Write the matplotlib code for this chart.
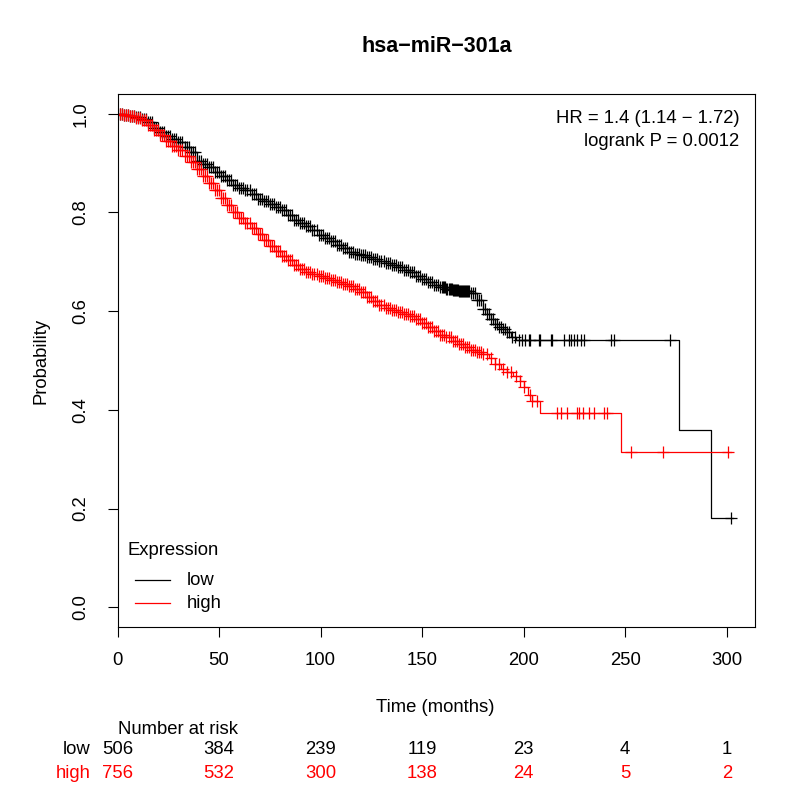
import numpy as np
import matplotlib.pyplot as plt
from matplotlib.lines import Line2D
from matplotlib.transforms import blended_transform_factory

plt.rcParams["font.family"] = ["Liberation Sans", "DejaVu Sans"]

# Kaplan-Meier steps: (time in months, survival)
low_t = [0, 3, 6, 9, 12, 15, 18, 21, 24, 27, 30, 33, 36, 39, 42, 45, 48, 51,
         54, 57, 60, 63, 66, 69, 72, 75, 78, 81, 84, 87, 90, 93, 96, 99, 102,
         105, 108, 111, 114, 117, 120, 123, 126, 129, 132, 135, 138, 141, 144,
         147, 150, 153, 156, 159, 162, 165, 168, 171, 174, 177, 180, 182, 184,
         186, 188, 190, 192, 194, 196, 276.5, 292.5]
low_s = [1.0, 0.998, 0.996, 0.993, 0.99, 0.983, 0.972, 0.963, 0.955, 0.949,
         0.943, 0.933, 0.922, 0.905, 0.898, 0.893, 0.882, 0.873, 0.865, 0.856,
         0.85, 0.845, 0.838, 0.828, 0.823, 0.818, 0.812, 0.805, 0.795, 0.785,
         0.778, 0.772, 0.765, 0.755, 0.748, 0.742, 0.735, 0.728, 0.72, 0.716,
         0.713, 0.709, 0.705, 0.701, 0.698, 0.694, 0.689, 0.684, 0.679, 0.672,
         0.666, 0.66, 0.654, 0.648, 0.645, 0.643, 0.641, 0.64, 0.636, 0.623,
         0.605, 0.594, 0.585, 0.574, 0.568, 0.563, 0.557, 0.548, 0.5416,
         0.36, 0.18]
low_end = 303

high_t = [0, 3, 6, 9, 12, 15, 18, 21, 24, 27, 30, 33, 36, 39, 42, 45, 48, 51,
          54, 57, 60, 63, 66, 69, 72, 75, 78, 81, 84, 87, 90, 93, 96, 99, 102,
          105, 108, 111, 114, 117, 120, 123, 126, 129, 132, 135, 138, 141, 144,
          147, 150, 153, 156, 159, 162, 165, 168, 171, 174, 177, 180, 183, 186,
          189, 192, 195, 198, 200, 202, 204, 208, 248]
high_s = [1.0, 0.998, 0.996, 0.992, 0.987, 0.978, 0.968, 0.957, 0.945, 0.935,
          0.926, 0.915, 0.902, 0.888, 0.874, 0.86, 0.845, 0.83, 0.815, 0.8,
          0.788, 0.778, 0.768, 0.756, 0.744, 0.733, 0.722, 0.712, 0.703, 0.694,
          0.685, 0.679, 0.675, 0.672, 0.668, 0.664, 0.66, 0.656, 0.651, 0.645,
          0.638, 0.629, 0.62, 0.612, 0.607, 0.602, 0.598, 0.594, 0.59, 0.584,
          0.577, 0.568, 0.56, 0.552, 0.547, 0.54, 0.533, 0.527, 0.522, 0.518,
          0.513, 0.505, 0.492, 0.482, 0.476, 0.468, 0.458, 0.447, 0.43, 0.418,
          0.393, 0.315]
high_end = 302

# censored observations (months)
low_cens = [1, 2, 3, 4, 5, 6, 7, 8, 9, 10, 11, 12, 13, 14, 15, 16, 17, 18,
            19, 20, 21, 22, 23, 24, 25, 26, 27, 28, 29, 30, 31, 32, 33, 34, 35,
            36, 37, 38, 39, 40, 41, 42, 43, 44, 45, 46, 47, 48, 49, 50, 51, 52,
            53, 54, 55, 56, 57, 58, 59, 60, 61, 62, 63, 64, 65, 66, 67, 68, 69,
            70, 71, 72, 73, 74, 75, 76, 77, 78, 79, 80, 81, 82, 83, 84, 85, 86,
            87, 88, 89, 90, 91, 92, 93, 94, 95, 96, 97, 98, 99, 100, 101, 102,
            103, 104, 105, 106, 107, 108, 109, 110, 111, 112, 113, 114, 115,
            116, 117, 118, 119, 120, 121, 122, 123, 124, 125, 126, 127, 128,
            129, 130, 131, 132, 133, 134, 135, 136, 137, 138, 139, 140, 141,
            142, 143, 144, 145, 146, 147, 148, 149, 150, 151, 152, 153, 154,
            155, 156, 157, 158, 159, 160, 160.5, 161, 161.5, 162, 162.5, 163,
            163.5, 164, 164.5, 165, 165.5, 166, 166.5, 167, 167.5, 168, 168.5,
            169, 169.5, 170, 170.5, 171, 171.5, 172, 172.5, 173, 174, 175, 176,
            177, 178, 179, 180, 181, 182, 183, 184, 185, 186, 187, 188, 189,
            190, 191, 192, 193, 194.3, 195.9, 197.5, 199.2, 200.9, 202.5,
            203.3, 207.5, 208.3, 213.3, 214.1, 219.9, 222.4, 223.5, 224.8,
            226.5, 228.2, 229.8, 243, 244.7, 272, 302]
high_cens = [1, 2, 3, 4, 5, 6, 7, 8, 9, 10, 11, 12, 13, 14, 15, 16, 17, 18,
             19, 20, 21, 22, 23, 24, 25, 26, 27, 28, 29, 30, 31, 32, 33, 34, 35,
             36, 37, 38, 39, 40, 41, 42, 43, 44, 45, 46, 47, 48, 49, 50, 51, 52,
             53, 54, 55, 56, 57, 58, 59, 60, 61, 62, 63, 64, 65, 66, 67, 68, 69,
             70, 71, 72, 73, 74, 75, 76, 77, 78, 79, 80, 81, 82, 83, 84, 85, 86,
             87, 88, 89, 90, 91, 92, 93, 94, 95, 96, 97, 98, 99, 100, 101, 102,
             103, 104, 105, 106, 107, 108, 109, 110, 111, 112, 113, 114, 115,
             116, 117, 118, 119, 120, 121, 122, 123, 124, 125, 126, 127, 128,
             129, 130, 131, 132, 133, 134, 135, 136, 137, 138, 139, 140, 141,
             142, 143, 144, 145, 146, 147, 148, 149, 150, 151, 152, 153, 154,
             155, 156, 157, 158, 159, 160, 161, 162, 163, 164, 165, 166, 167,
             168, 169, 170, 171, 172, 173, 174, 175, 176, 177, 178, 179, 180,
             182, 184, 186, 188, 190, 192, 194, 196, 198, 200, 203, 204, 206.6,
             216.6, 218.2, 221.6, 226.5, 227.3, 229, 232.3, 234.8, 239.8, 241.1,
             253, 268.6, 300.5]

risk_times = [0, 50, 100, 150, 200, 250, 300]
risk_low = [506, 384, 239, 119, 23, 4, 1]
risk_high = [756, 532, 300, 138, 24, 5, 2]

RED = "#FF0000"
FS = 13.3


def surv_at(t_steps, s_steps, times):
    idx = np.searchsorted(t_steps, times, side="right") - 1
    return np.asarray(s_steps)[idx]


fig = plt.figure(figsize=(8, 8), dpi=100)
ax = fig.add_axes([0.1469, 0.2162, 0.797, 0.6663])

for t, s, end, cens, col in [
    (low_t, low_s, low_end, low_cens, "black"),
    (high_t, high_s, high_end, high_cens, RED),
]:
    ax.step(t + [end], s + [s[-1]], where="post", color=col, lw=0.9)
    ax.plot(cens, surv_at(t, s, cens), ls="none", marker="+", ms=9,
            mew=0.9, color=col)

ax.set_xlim(0, 314)
ax.set_ylim(-0.04, 1.04)
ax.set_xticks(risk_times)
ax.set_yticks([0, 0.2, 0.4, 0.6, 0.8, 1.0])
ax.set_yticklabels(["0.0", "0.2", "0.4", "0.6", "0.8", "1.0"],
                   rotation=90, va="center")
ax.tick_params(axis="both", length=7, width=0.8, labelsize=FS)
ax.tick_params(axis="x", pad=11)
ax.tick_params(axis="y", pad=13)
for sp in ax.spines.values():
    sp.set_linewidth(0.8)

ax.set_ylabel("Probability", fontsize=FS, labelpad=17)
ax.set_title("hsa\u2212miR\u2212301a", fontsize=15.5, fontweight="bold",
             pad=30)

ax.text(0.975, (627 - 118) / 533, "HR = 1.4 (1.14 \u2212 1.72)",
        transform=ax.transAxes, ha="right", va="center", fontsize=FS)
ax.text(0.975, (627 - 141) / 533, "logrank P = 0.0012",
        transform=ax.transAxes, ha="right", va="center", fontsize=FS)

# legend drawn by hand, R style
ax.text(0.0149, (627 - 550) / 533, "Expression", transform=ax.transAxes,
        ha="left", va="center", fontsize=FS)
for yy, col, lab in [(580, "black", "low"), (603, RED, "high")]:
    ya = (627 - yy) / 533
    ax.add_line(Line2D([0.0275, 0.0824], [ya, ya], transform=ax.transAxes,
                       color=col, lw=0.9))
    ax.text(0.109, ya, lab, transform=ax.transAxes, ha="left", va="center",
            fontsize=FS)

# x label and number-at-risk table
fig.text(0.5435, 1 - 707 / 800, "Time (months)", ha="center", va="center",
         fontsize=FS)
tr = blended_transform_factory(ax.transData, fig.transFigure)
fig.text(118 / 800, 1 - 730 / 800, "Number at risk", ha="left",
         va="center", fontsize=FS)
fig.text(91 / 800, 1 - 750 / 800, "low", ha="right", va="center",
         fontsize=FS, color="black")
fig.text(91 / 800, 1 - 773 / 800, "high", ha="right", va="center",
         fontsize=FS, color=RED)
for x, a, b in zip(risk_times, risk_low, risk_high):
    fig.text(x, 1 - 750 / 800, str(a), transform=tr, ha="center",
             va="center", fontsize=FS, color="black")
    fig.text(x, 1 - 773 / 800, str(b), transform=tr, ha="center",
             va="center", fontsize=FS, color=RED)

fig.savefig("out.png", dpi=100)
